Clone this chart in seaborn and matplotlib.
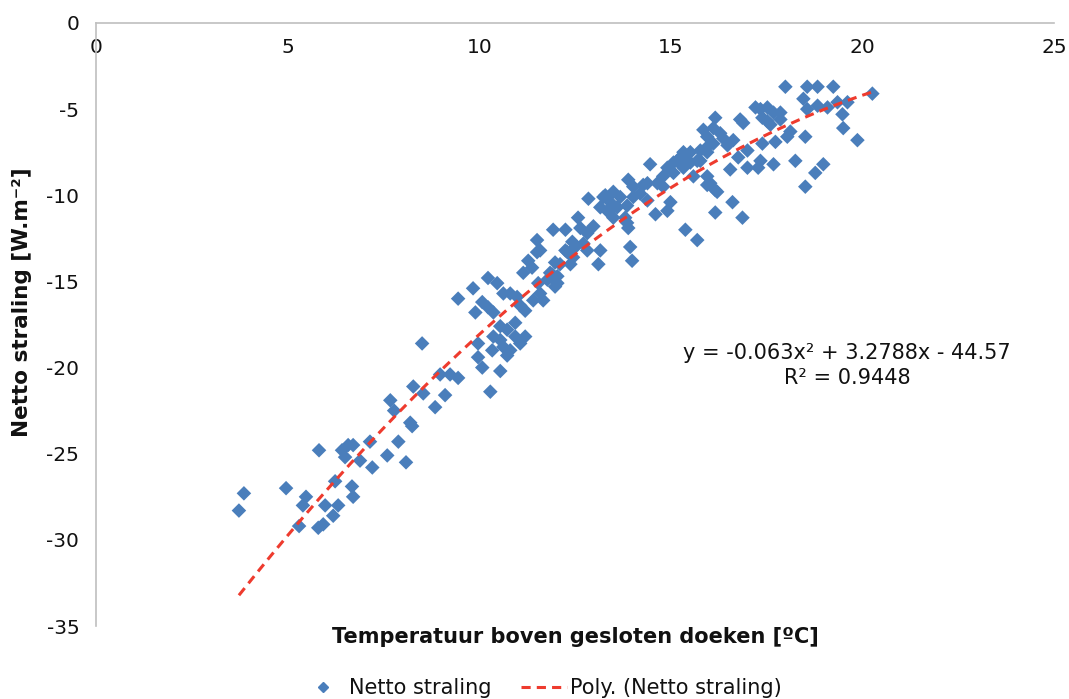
import numpy as np
import pandas as pd
import matplotlib
matplotlib.use("Agg")
import matplotlib.pyplot as plt
import seaborn as sns
from matplotlib.lines import Line2D

# ---- data ----
temperatuur = [
    3.86, 3.73, 4.96, 5.48, 5.40, 5.30, 5.80, 5.93, 5.98, 6.19,
    6.32, 6.24, 6.68, 6.71, 5.82, 6.42, 6.50, 6.58, 6.71, 6.89,
    7.15, 7.21, 7.60, 7.89, 8.09, 7.68, 7.78, 8.20, 8.25, 8.28,
    8.51, 8.54, 9.11, 8.85, 8.98, 9.24, 9.45, 10.29, 10.55, 9.97,
    9.97, 10.08, 10.73, 9.45, 9.84, 10.23, 10.47, 10.08, 9.90, 10.23,
    10.37, 10.63, 10.81, 10.55, 10.37, 10.55, 10.73, 10.94, 10.94, 11.07,
    11.20, 10.63, 10.81, 10.34, 10.99, 11.07, 11.20, 11.41, 11.59, 11.67,
    11.15, 11.38, 11.28, 11.51, 11.78, 11.91, 12.04, 11.98, 12.30, 12.38,
    12.45, 11.54, 12.85, 11.93, 12.25, 12.58, 12.64, 12.82, 12.98, 12.43,
    12.25, 12.51, 12.82, 12.72, 13.16, 13.11, 12.11, 12.04, 11.85, 11.98,
    13.16, 13.34, 13.29, 13.50, 13.68, 13.60, 13.86, 13.89, 14.02, 14.20,
    14.02, 13.81, 13.89, 13.94, 13.99, 14.39, 14.60, 14.46, 14.65, 14.80,
    14.99, 14.91, 14.91, 15.07, 15.17, 15.33, 15.51, 15.59, 15.77, 15.95,
    16.03, 16.16, 15.38, 15.69, 16.16,
    17.99, 18.56, 18.83, 19.24,
    20.26, 18.46, 18.56, 18.83, 19.09, 19.35, 19.61, 19.48, 19.50, 19.87,
    18.51, 18.12, 18.04, 18.25, 18.98, 18.77, 18.51, 17.21, 17.34, 17.52,
    17.68, 17.86, 17.39, 17.52, 17.60, 17.86, 16.81, 16.89, 16.16, 17.39,
    17.73, 17.34, 17.28, 17.68, 17.00, 16.76, 16.55, 15.95, 16.21, 16.61,
    16.87, 15.85, 15.95, 16.11, 16.29, 16.37, 16.11, 15.95, 16.48, 15.77,
    15.51, 15.69, 16.63, 17.00, 11.51, 11.59, 13.42,
    13.24, 13.50, 13.50, 13.86,
    14.28, 14.39, 14.80, 15.07, 15.25, 15.43, 15.33, 15.95,
]
netto_straling = [
    -27.3, -28.3, -27.0, -27.5, -28.0, -29.2, -29.3, -29.1, -28.0, -28.6,
    -28.0, -26.6, -26.9, -27.5, -24.8, -24.8, -25.2, -24.5, -24.5, -25.4,
    -24.3, -25.8, -25.1, -24.3, -25.5, -21.9, -22.5, -23.2, -23.4, -21.1,
    -18.6, -21.5, -21.6, -22.3, -20.4, -20.4, -20.6, -21.4, -20.2, -18.6,
    -19.4, -20.0, -19.3, -16.0, -15.4, -14.8, -15.1, -16.2, -16.8, -16.5,
    -16.8, -15.7, -15.7, -17.6, -18.2, -18.4, -17.8, -17.4, -18.2, -18.6,
    -18.2, -18.8, -19.0, -19.0, -15.9, -16.4, -16.7, -16.1, -15.7, -16.1,
    -14.5, -14.2, -13.8, -13.3, -14.9, -14.6, -15.1, -13.9, -13.3, -14.0,
    -13.6, -15.1, -10.2, -12.0, -12.0, -11.3, -11.9, -12.2, -11.8, -12.7,
    -13.2, -13.0, -13.2, -12.8, -13.2, -14.0, -14.0, -14.7, -14.5, -15.3,
    -10.7, -10.9, -10.0, -9.8, -10.1, -10.7, -10.6, -9.1, -9.5, -9.9,
    -10.1, -11.3, -11.9, -13.0, -13.8, -10.3, -11.1, -8.2, -9.3, -9.5,
    -10.4, -10.9, -8.4, -8.7, -8.0, -7.5, -8.1, -8.9, -8.0, -7.5,
    -9.3, -9.7, -12.0, -12.6, -11.0,
    -3.7, -3.7, -3.7, -3.7,
    -4.1, -4.4, -5.0, -4.8, -4.9, -4.6, -4.6, -5.3, -6.1, -6.8,
    -6.6, -6.3, -6.6, -8.0, -8.2, -8.7, -9.5, -4.9, -5.0, -4.9,
    -5.2, -5.2, -5.5, -5.7, -5.9, -5.6, -5.6, -5.8, -5.5, -7.0,
    -6.9, -8.0, -8.4, -8.2, -8.4, -7.8, -8.5, -9.4, -9.8, -10.4,
    -11.3, -6.2, -6.6, -6.1, -6.4, -6.7, -7.0, -7.2, -7.1, -7.4,
    -7.5, -8.0, -6.8, -7.4, -12.6, -13.2, -10.4,
    -10.1, -10.7, -11.3, -11.6,
    -9.4, -9.3, -8.9, -8.1, -7.8, -8.0, -8.4, -8.9,
]
# trendline coefficients as printed on the chart
poly_coef = [-0.063, 3.2788, -44.57]
r_squared = 0.9448

x_ticks = [0, 5, 10, 15, 20, 25]
y_ticks = [0, -5, -10, -15, -20, -25, -30, -35]

series_label = "Netto straling"
trend_label = "Poly. (Netto straling)"
x_title = "Temperatuur boven gesloten doeken [ºC]"
y_title = "Netto straling [W.m⁻²]"

# ---- styling ----
sns.set_theme(style="white")
plt.rcParams["font.family"] = ["DejaVu Sans"]

blue = "#4A7EBB"
red = "#EE3B2E"
grey = "#BFBFBF"
txt = "#111111"

df = pd.DataFrame({"temp": temperatuur, "netto": netto_straling})
xs = np.linspace(min(temperatuur), max(temperatuur), 200)
trend = pd.DataFrame({"temp": xs, "netto": np.polyval(poly_coef, xs)})

fig = plt.figure(figsize=(10.69, 6.99), dpi=100)
ax = fig.add_axes([96 / 1069, 1 - 626 / 699, (1054 - 96) / 1069, (626 - 23) / 699])

sns.scatterplot(data=df, x="temp", y="netto", ax=ax, marker="D", s=55,
                color=blue, edgecolor="none", linewidth=0, legend=False, zorder=2)
sns.lineplot(data=trend, x="temp", y="netto", ax=ax, color=red, linewidth=2.2,
             linestyle=(0, (3, 2)), legend=False, zorder=3)

ax.spines["top"].set_visible(False)
ax.spines["right"].set_visible(False)
ax.spines["bottom"].set_position(("data", 0))
for s in ("bottom", "left"):
    ax.spines[s].set_color(grey)
    ax.spines[s].set_linewidth(1.2)

ax.set_xlim(0, 25)
ax.set_ylim(-35, 0)
ax.set_xticks(x_ticks)
ax.set_yticks(y_ticks)
ax.set_xticklabels([str(v) for v in x_ticks])
ax.set_yticklabels([str(v) for v in y_ticks])
ax.set_xlabel("")
ax.set_ylabel("")
ax.tick_params(axis="both", direction="out", length=5, width=1, color=grey,
               labelcolor=txt, labelsize=14.5)
ax.tick_params(axis="x", pad=6)
ax.tick_params(axis="y", pad=7)

# equation annotation
ax.text(19.6, -19.9,
        f"y = {poly_coef[0]}x² + {poly_coef[1]}x - {abs(poly_coef[2])}\nR² = {r_squared}",
        ha="center", va="center", fontsize=15, linespacing=1.3, color=txt)

# axis titles
fig.text(575 / 1069, 1 - 637 / 699, x_title, ha="center", va="center",
         fontsize=15, fontweight="bold", color=txt)
fig.text(22 / 1069, 1 - 302 / 699, y_title, ha="center", va="center",
         rotation=90, fontsize=15.5, fontweight="bold", color=txt)

# legend
handles = [
    Line2D([], [], marker="D", color=blue, linestyle="none", markersize=5),
    Line2D([], [], color=red, linewidth=2.2, linestyle=(0, (3, 2))),
]
fig.legend(handles, [series_label, trend_label], loc="center",
           bbox_to_anchor=(541 / 1069, 1 - 688 / 699), ncol=2, frameon=False,
           fontsize=15, handlelength=2.2, handletextpad=0.15, columnspacing=1.4,
           labelcolor=txt)

fig.savefig("out.png", dpi=100)
